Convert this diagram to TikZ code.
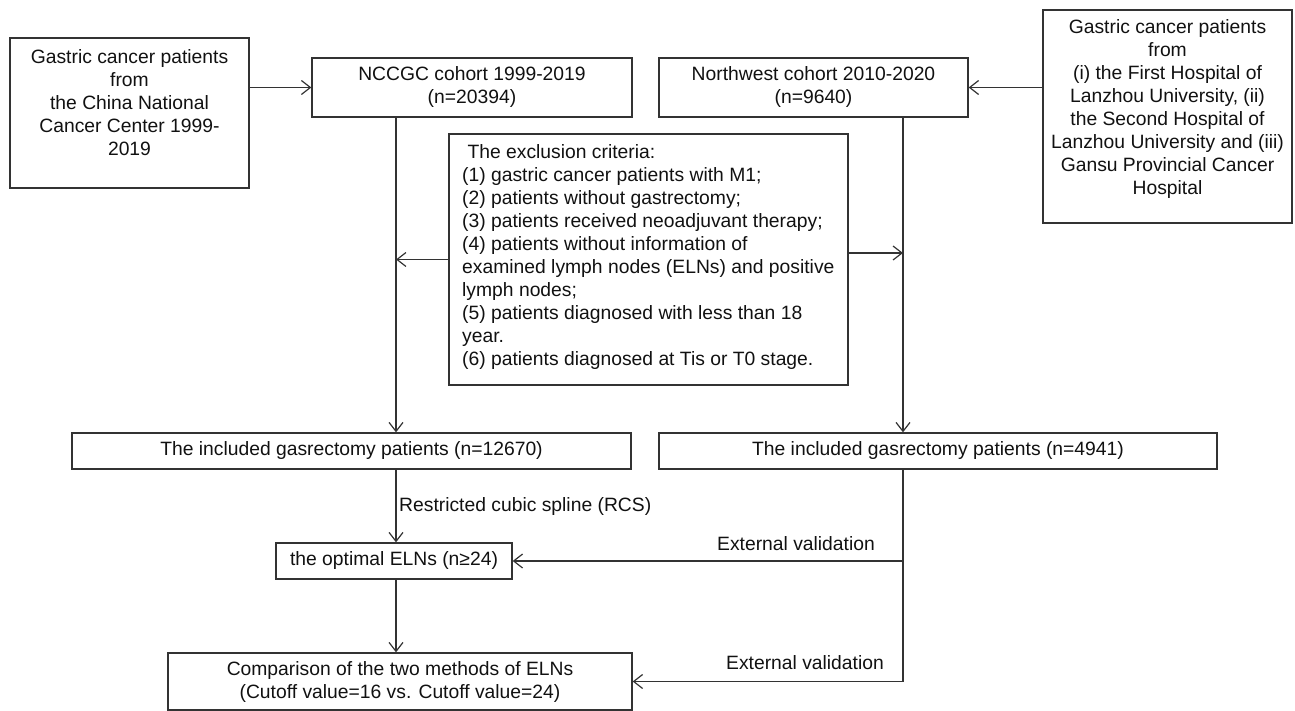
\documentclass[tikz,border=0pt]{standalone}
\usepackage{fontspec}
\setmainfont{Liberation Sans}
\usetikzlibrary{arrows.meta}
\definecolor{lc}{HTML}{333333}
\definecolor{tc}{HTML}{111111}
\begin{document}
\begin{tikzpicture}[x=1pt,y=-1pt,
  box/.style={draw=lc, line width=1.3pt, inner sep=0pt, fill=none},
  txt/.style={align=center, inner sep=0pt, text=tc, font=\fontsize{19.3}{23}\selectfont},
  conn/.style={draw=lc, line width=1.2pt},
  arr/.style={conn, -{Straight Barb[length=9pt,width=14pt,line width=1.2pt]}}]
\useasboundingbox (0,0) rectangle (1295,711);
% boxes
\node[box, minimum width=239, minimum height=150] (src1) at (129.5,113) {};
\node[txt] (src1t) at (129.5,102.5) {Gastric cancer patients\\from\\the China National\\Cancer Center 1999-\\2019};
\node[box, minimum width=249, minimum height=213] (src2) at (1167.5,116.5) {};
\node[txt] (src2t) at (1167.5,109) {Gastric cancer patients\\from\\(i) the First Hospital of\\Lanzhou University, (ii)\\the Second Hospital of\\Lanzhou University and (iii)\\Gansu Provincial Cancer\\Hospital};
\node[box, txt, minimum width=320, minimum height=59] (nccgc) at (472,87.5) {NCCGC cohort 1999-2019\\(n=20394)};
\node[box, txt, minimum width=309, minimum height=59] (nw) at (813.5,87.5) {Northwest cohort 2010-2020\\(n=9640)};
\node[box, minimum width=399, minimum height=251] (excl) at (648.5,259.5) {};
\node[txt, align=left, anchor=west] (exclt) at (462,257) {\ The exclusion criteria:\\(1) gastric cancer patients with M1;\\(2) patients without gastrectomy;\\(3) patients received neoadjuvant therapy;\\(4) patients without information of\\examined lymph nodes (ELNs) and positive\\lymph nodes;\\(5) patients diagnosed with less than 18\\year.\\(6) patients diagnosed at Tis or T0 stage.};
\node[box, txt, minimum width=559, minimum height=36] (inc1) at (351.5,451) {The included gasrectomy patients (n=12670)};
\node[box, txt, minimum width=558, minimum height=36] (inc2) at (938,451) {The included gasrectomy patients (n=4941)};
\node[box, txt, minimum width=236, minimum height=36] (opt) at (394,561) {the optimal ELNs (n≥24)};
\node[box, txt, minimum width=464, minimum height=57] (comp) at (400,681.5) {Comparison of the two methods of ELNs\\(Cutoff value=16 vs. Cutoff value=24)};
% guide coordinates
\coordinate (lx) at (396,0);
\coordinate (rx) at (903,0);
% connectors
\draw[arr] (src1.east |- nccgc.west) -- (nccgc.west);
\draw[arr] (src2.west |- nw.east) -- (nw.east);
\draw[arr] (nccgc.south -| lx) -- (inc1.north -| lx);
\draw[arr] (nw.south -| rx) -- (inc2.north -| rx);
\draw[arr] (excl.west) -- (excl.west -| lx);
\draw[arr] ([yshift=6.5pt]excl.east) -- ([yshift=6.5pt]excl.east -| rx);
\draw[arr] (inc1.south -| lx) -- (opt.north -| lx);
\draw[arr] (opt.south -| lx) -- (comp.north -| lx);
\coordinate (j1) at (rx |- opt.east);
\coordinate (j2) at (rx |- comp.east);
\draw[conn] (inc2.south -| rx) -- (j2);
\draw[arr] (j1) -- (opt.east);
\draw[arr] (j2) -- (comp.east);
% labels
\node[txt, anchor=west] (rcs) at (399,507) {Restricted cubic spline (RCS)};
\node[txt] (ev1) at (796,544) {External validation};
\node[txt] (ev2) at (805,663) {External validation};
\end{tikzpicture}
\end{document}
